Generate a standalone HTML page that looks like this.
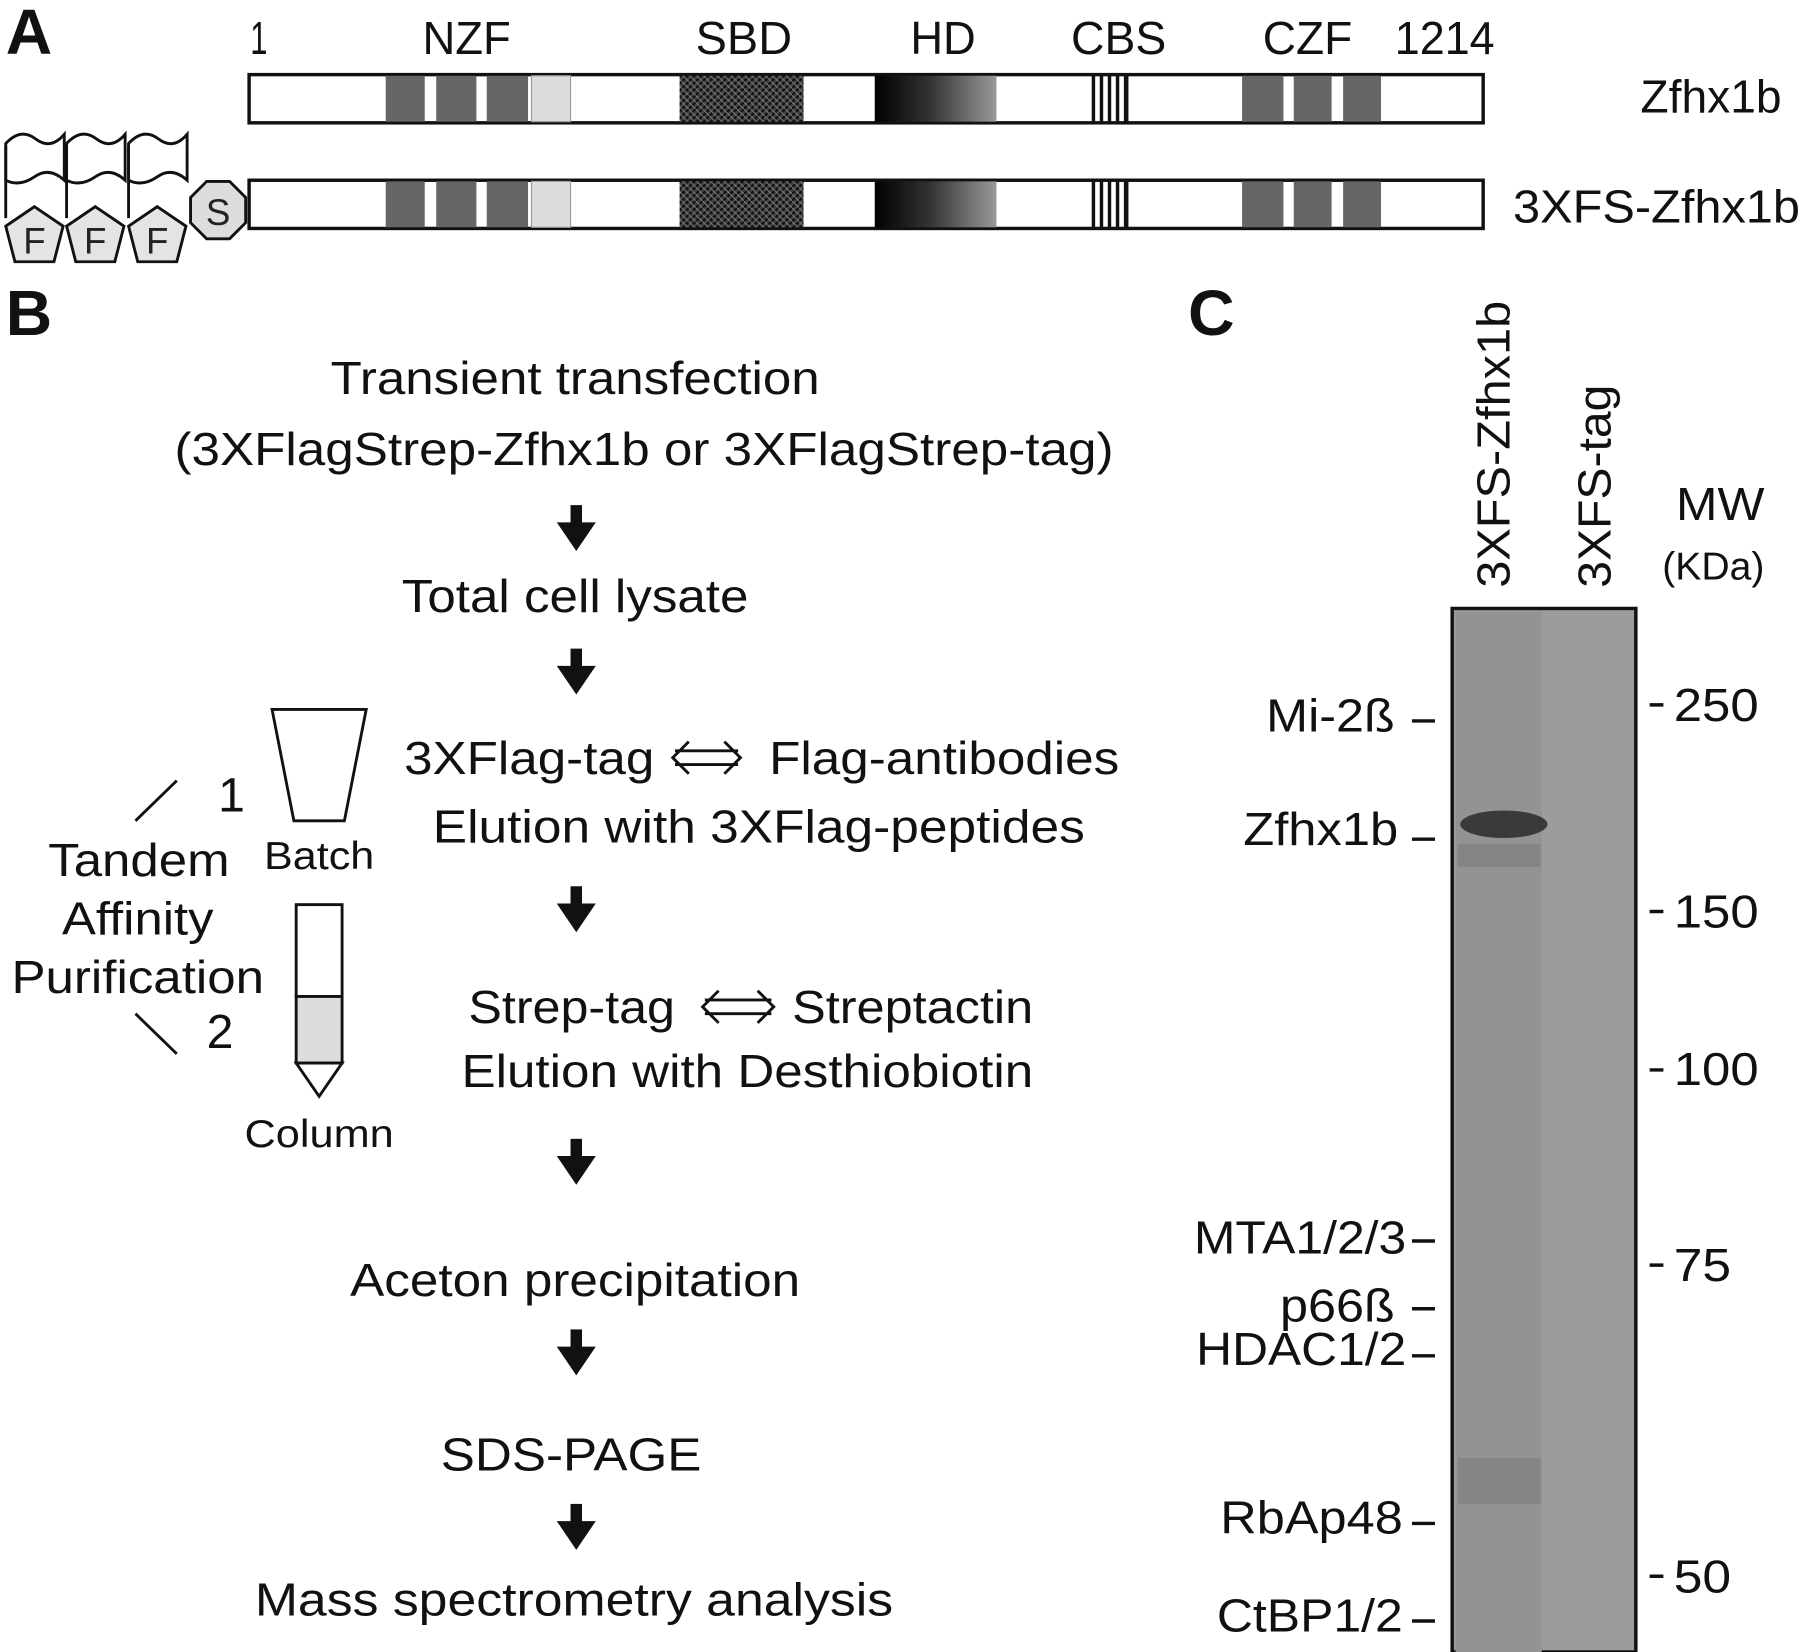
<!DOCTYPE html>
<html><head><style>body{margin:0;background:#fff}svg{display:block}</style></head><body>
<svg width="1800" height="1652" viewBox="0 0 1568 1439" preserveAspectRatio="none" xmlns="http://www.w3.org/2000/svg" font-family="Liberation Sans, sans-serif">
<defs>
<linearGradient id="hd" x1="0" x2="1"><stop offset="0" stop-color="#000"/><stop offset="0.45" stop-color="#333"/><stop offset="1" stop-color="#999"/></linearGradient>
<pattern id="sbd" width="6" height="6" patternUnits="userSpaceOnUse"><rect width="6" height="6" fill="#444"/><path d="M0 6L6 0" stroke="#111" stroke-width="2"/><path d="M0 0L6 6" stroke="#777" stroke-width="1"/></pattern>
<g id="bar">
<rect x="217" y="0" width="1075" height="42" fill="#fff" stroke="#111" stroke-width="3"/>
<rect x="336" y="1" width="34" height="40" fill="#666"/><rect x="380" y="1" width="35" height="40" fill="#666"/><rect x="424" y="1" width="36" height="40" fill="#666"/><rect x="463" y="1" width="34" height="40" fill="#ddd" stroke="#999"/>
<rect x="592" y="1" width="108" height="40" fill="url(#sbd)"/>
<rect x="762" y="1" width="106" height="40" fill="url(#hd)"/>
<g fill="#111"><rect x="951" y="1" width="3" height="40"/><rect x="958" y="1" width="3" height="40"/><rect x="965" y="1" width="3" height="40"/><rect x="972" y="1" width="3" height="40"/><rect x="979" y="1" width="4" height="40"/></g>
<rect x="1082" y="1" width="36" height="40" fill="#666"/><rect x="1127" y="1" width="33" height="40" fill="#666"/><rect x="1170" y="1" width="33" height="40" fill="#666"/>
</g>
<g id="flag"><path d="M5 125 q13 -14 26 -4 t25 -4 v40 q-13 -12 -26 -3 t-25 3 z" fill="#fff" stroke="#111" stroke-width="2.5"/><path d="M5 127 V190" stroke="#111" stroke-width="2.5"/><polygon points="30,180 55,197 47,228 13,228 5,197" fill="#e4e4e4" stroke="#111" stroke-width="2.5"/><text x="30" y="221" font-size="32" text-anchor="middle" fill="#222">F</text></g>
</defs>
<g font-size="40" fill="#111">
<text x="5" y="47" font-size="56" font-weight="bold">A</text>
<text x="218" y="47" textLength="15" lengthAdjust="spacingAndGlyphs">1</text><text x="368" y="47" textLength="77" lengthAdjust="spacingAndGlyphs">NZF</text><text x="606" y="47" textLength="84" lengthAdjust="spacingAndGlyphs">SBD</text><text x="793" y="47" textLength="57" lengthAdjust="spacingAndGlyphs">HD</text><text x="933" y="47" textLength="83" lengthAdjust="spacingAndGlyphs">CBS</text><text x="1100" y="47" textLength="78" lengthAdjust="spacingAndGlyphs">CZF</text><text x="1215" y="47" textLength="87" lengthAdjust="spacingAndGlyphs">1214</text>
<text x="1429" y="98" textLength="123" lengthAdjust="spacingAndGlyphs">Zfhx1b</text><text x="1318" y="194" textLength="250" lengthAdjust="spacingAndGlyphs">3XFS-Zfhx1b</text>
</g>
<use href="#bar" y="65"/><use href="#bar" y="157"/>
<use href="#flag"/><use href="#flag" x="53"/><use href="#flag" x="107"/>
<polygon points="180,158 200,158 214,172 214,194 200,208 180,208 166,194 166,172" fill="#ddd" stroke="#111" stroke-width="2.5"/><text x="190" y="196" font-size="32" text-anchor="middle" fill="#222">S</text>
<g fill="#111" font-size="40">
<text x="5" y="292" font-size="56" font-weight="bold">B</text>
<text x="1035" y="292" font-size="56" font-weight="bold">C</text>
<text x="288" y="343" textLength="426" lengthAdjust="spacingAndGlyphs">Transient transfection</text>
<text x="152" y="405" textLength="818" lengthAdjust="spacingAndGlyphs">(3XFlagStrep-Zfhx1b or 3XFlagStrep-tag)</text>
<text x="350" y="533" textLength="302" lengthAdjust="spacingAndGlyphs">Total cell lysate</text>
<text x="352" y="674" textLength="218" lengthAdjust="spacingAndGlyphs">3XFlag-tag</text><text x="670" y="674" textLength="305" lengthAdjust="spacingAndGlyphs">Flag-antibodies</text>
<text x="377" y="734" textLength="568" lengthAdjust="spacingAndGlyphs">Elution with 3XFlag-peptides</text>
<text x="408" y="891" textLength="180" lengthAdjust="spacingAndGlyphs">Strep-tag</text><text x="690" y="891" textLength="210" lengthAdjust="spacingAndGlyphs">Streptactin</text>
<text x="402" y="947" textLength="498" lengthAdjust="spacingAndGlyphs">Elution with Desthiobiotin</text>
<text x="305" y="1129" textLength="392" lengthAdjust="spacingAndGlyphs">Aceton precipitation</text>
<text x="384" y="1281" textLength="227" lengthAdjust="spacingAndGlyphs">SDS-PAGE</text>
<text x="222" y="1407" textLength="556" lengthAdjust="spacingAndGlyphs">Mass spectrometry analysis</text>
<text x="42" y="763" textLength="158" lengthAdjust="spacingAndGlyphs">Tandem</text><text x="54" y="814" textLength="132" lengthAdjust="spacingAndGlyphs">Affinity</text><text x="10" y="865" textLength="220" lengthAdjust="spacingAndGlyphs">Purification</text>
<text x="230" y="757" font-size="34" textLength="96" lengthAdjust="spacingAndGlyphs">Batch</text><text x="213" y="999" font-size="34" textLength="130" lengthAdjust="spacingAndGlyphs">Column</text>
<text x="190" y="707" font-size="42">1</text><text x="180" y="913" font-size="42">2</text>
</g>
<g stroke="#111" stroke-width="2.5" fill="none">
<line x1="118" y1="715" x2="154" y2="680"/><line x1="118" y1="883" x2="154" y2="918"/>
<polygon points="237,618 319,618 300,715 256,715"/>
<rect x="258" y="788" width="40" height="80"/><rect x="258" y="868" width="40" height="58" fill="#ddd"/><polygon points="258,926 298,926 278,955"/>
<path d="M588 654 h55 M588 666 h55 M600 646 l-14 14 l14 14 M631 646 l14 14 l-14 14"/>
<path d="M614 871 h58 M614 883 h58 M626 863 l-14 14 l14 14 M660 863 l14 14 l-14 14"/>
</g>
<g fill="#111">
<g id="arr"><rect x="497" y="440" width="10" height="18"/><polygon points="485,455 519,455 502,480"/></g>
<use href="#arr" y="125"/><use href="#arr" y="332"/><use href="#arr" y="552"/><use href="#arr" y="718"/><use href="#arr" y="870"/>
</g>
<rect x="1265" y="530" width="160" height="909" fill="#9c9c9c" stroke="#111" stroke-width="3"/>
<rect x="1268" y="533" width="75" height="906" fill="#939393"/>
<ellipse cx="1310" cy="718" rx="38" ry="12" fill="#3a3a3a"/>
<rect x="1270" y="735" width="72" height="20" fill="#7a7a7a" opacity=".6"/>
<rect x="1270" y="1270" width="72" height="40" fill="#858585"/>
<g font-size="40" fill="#111">
<text transform="translate(1315,512) rotate(-90)" textLength="250" lengthAdjust="spacingAndGlyphs">3XFS-Zfhx1b</text>
<text transform="translate(1403,512) rotate(-90)" textLength="177" lengthAdjust="spacingAndGlyphs">3XFS-tag</text>
<text x="1460" y="453" textLength="77" lengthAdjust="spacingAndGlyphs">MW</text><text x="1448" y="505" font-size="34" textLength="89" lengthAdjust="spacingAndGlyphs">(KDa)</text>
<text x="1458" y="628" textLength="74" lengthAdjust="spacingAndGlyphs">250</text><text x="1458" y="808" textLength="74" lengthAdjust="spacingAndGlyphs">150</text><text x="1458" y="945" textLength="74" lengthAdjust="spacingAndGlyphs">100</text><text x="1458" y="1116" textLength="50" lengthAdjust="spacingAndGlyphs">75</text><text x="1458" y="1387" textLength="50" lengthAdjust="spacingAndGlyphs">50</text>
<text x="1103" y="637" textLength="112" lengthAdjust="spacingAndGlyphs">Mi-2ß</text><text x="1083" y="736" textLength="135" lengthAdjust="spacingAndGlyphs">Zfhx1b</text><text x="1040" y="1092" textLength="185" lengthAdjust="spacingAndGlyphs">MTA1/2/3</text><text x="1115" y="1151" textLength="100" lengthAdjust="spacingAndGlyphs">p66ß</text><text x="1042" y="1189" textLength="183" lengthAdjust="spacingAndGlyphs">HDAC1/2</text><text x="1063" y="1336" textLength="159" lengthAdjust="spacingAndGlyphs">RbAp48</text><text x="1060" y="1421" textLength="162" lengthAdjust="spacingAndGlyphs">CtBP1/2</text>
</g>
<g stroke="#111" stroke-width="3">
<path d="M1230 628h20M1230 731h20M1230 1081h20M1230 1140h20M1230 1181h20M1230 1327h20M1230 1412h20"/>
<path d="M1437 614h12M1437 794h12M1437 932h12M1437 1102h12M1437 1373h12"/>
</g>
</svg>
</body></html>
